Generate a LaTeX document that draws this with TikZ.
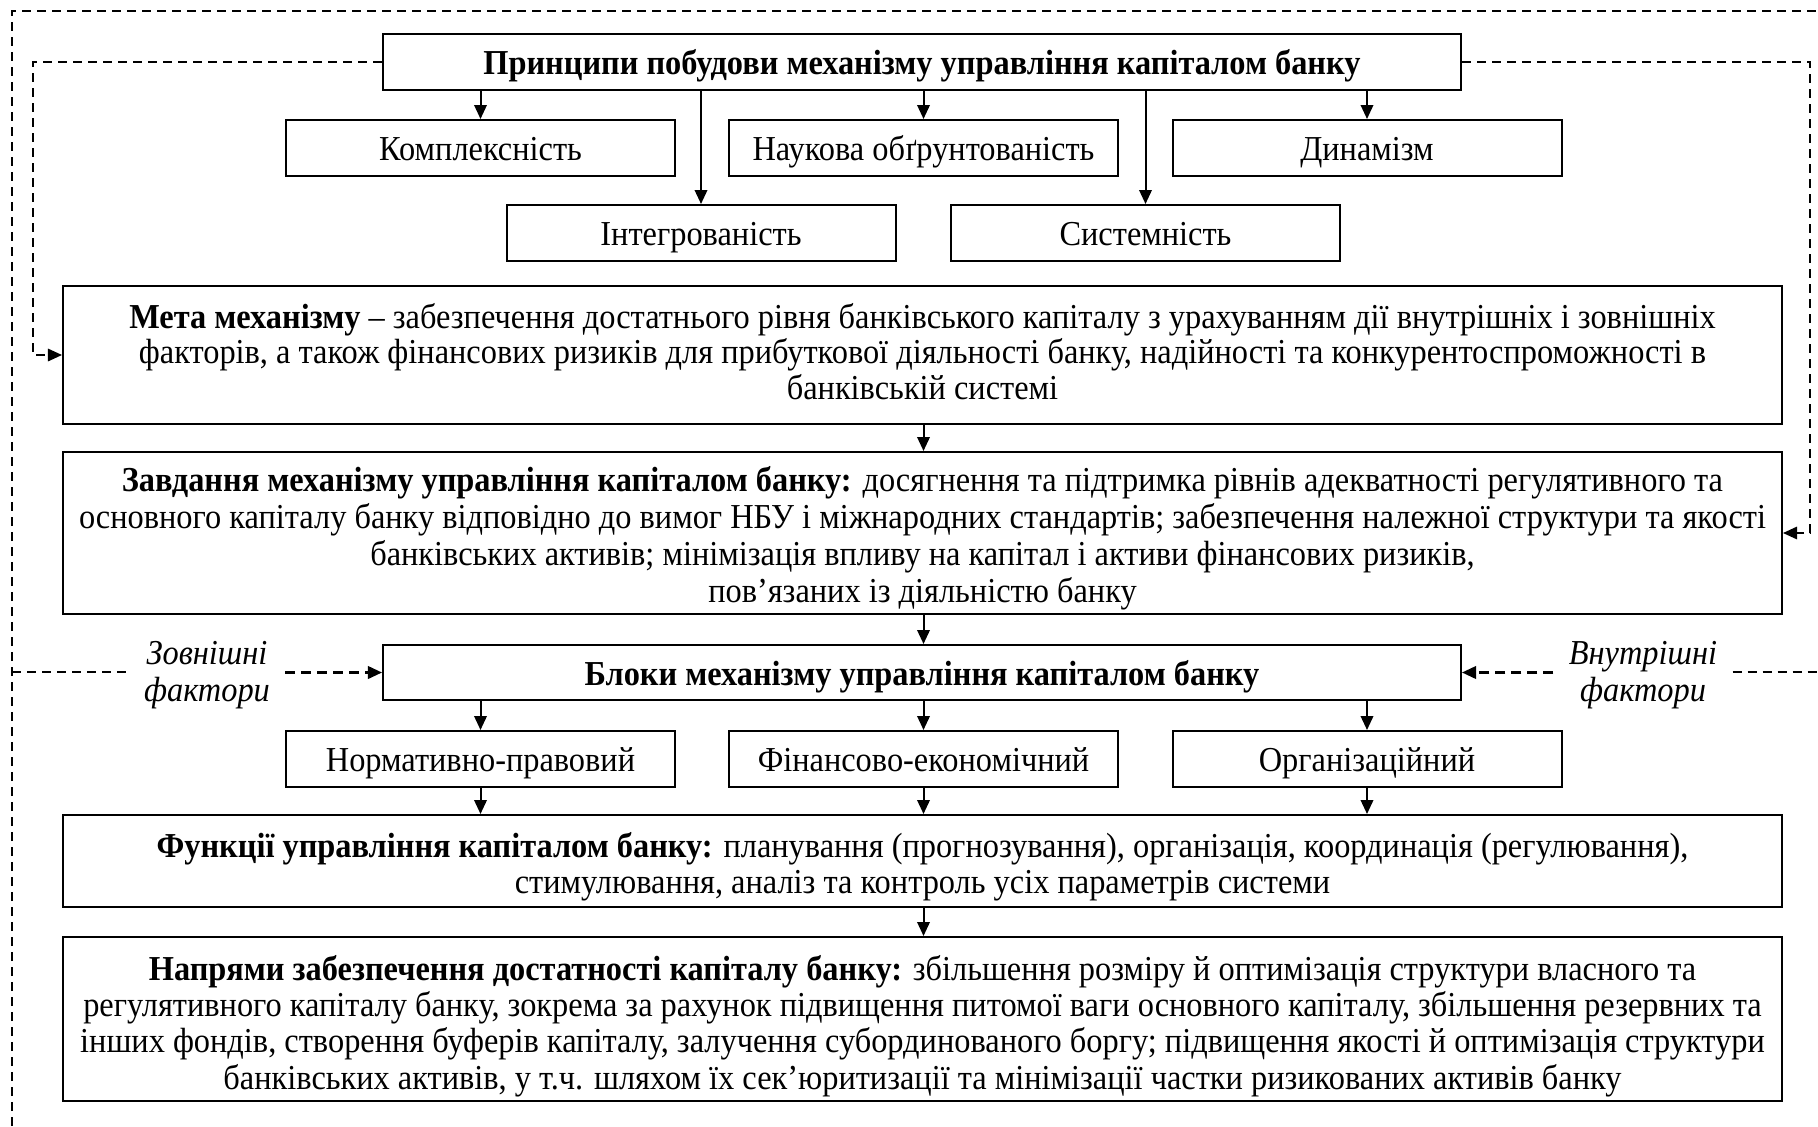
\documentclass[tikz,border=0pt]{standalone}
\usepackage{fontspec}
\setmainfont{Liberation Serif}[FakeStretch=0.925]
\usetikzlibrary{arrows.meta}
\begin{document}
\begin{tikzpicture}[x=0.4pt,y=-0.4pt,
  box/.style={draw, line width=0.8pt, fill=white, inner sep=0pt, align=center,
    font=\fontsize{14pt}{14.5pt}\selectfont},
  one/.style={text height=11.8pt, text depth=1.6pt},
  sbox/.style={box, one, minimum width=155.6pt, minimum height=22.4pt},
  wbox/.style={box, minimum width=687.6pt},
  txt/.style={align=center, inner sep=0pt},
  arr/.style={line width=0.8pt, -{Triangle[length=5.6pt,width=5pt]}},
  dl/.style={line width=0.6pt, dash pattern=on 3.6pt off 2.4pt},
  dla/.style={dl, -{Triangle[length=5.6pt,width=5pt]}},
  fa/.style={line width=0.9pt, dash pattern=on 4pt off 2.4pt, -{Triangle[length=5.6pt,width=5pt]}},
  fac/.style={align=center, inner xsep=6pt, inner ysep=0pt,
    font=\fontsize{14pt}{14.8pt}\selectfont\itshape}]
\useasboundingbox (0,0) rectangle (1818,1126);

% outer frame
\coordinate (fb) at (12,1126);
\coordinate (ftl) at (12,11);
\coordinate (ftr) at (1818,11);
\draw[dl] (fb) -- (ftl) -- (ftr);

% top
\node[box, one, minimum width=431.2pt, minimum height=22.4pt] (top) at (922,62)
  {\textbf{Принципи побудови механізму управління капіталом банку}};
\node[sbox] (kom) at (480.5,148) {Комплексність};
\node[sbox] (nauk) at (923.5,148) {Наукова обґрунтованість};
\node[sbox] (din) at (1367,148) {Динамізм};
\node[sbox] (integ) at (701,233) {Інтегрованість};
\node[sbox] (sys) at (1145.5,233) {Системність};

\draw[arr] (top.south -| kom) -- (kom.north);
\draw[arr] (top.south -| nauk) -- (nauk.north);
\draw[arr] (top.south -| din) -- (din.north);
\draw[arr] (top.south -| integ) -- (integ.north);
\draw[arr] (top.south -| sys) -- (sys.north);

% Meta
\node[wbox, minimum height=55.2pt] (meta) at (922.5,355) {};
\node[txt, font=\fontsize{14pt}{14.1pt}\selectfont] (metat) at (922.5,351.5)
  {\textbf{Мета механізму} – забезпечення достатнього рівня банківського капіталу з урахуванням дії внутрішніх і зовнішніх\\
   факторів, а також фінансових ризиків для прибуткової діяльності банку, надійності та конкурентоспроможності в\\
   банківській системі};

\node[wbox, minimum height=64.8pt] (zad) at (922.5,533) {};
\node[txt, font=\fontsize{14pt}{14.8pt}\selectfont] (zadt) at (922.5,538)
  {\textbf{Завдання механізму управління капіталом банку:} досягнення та підтримка рівнів адекватності регулятивного та\\
   основного капіталу банку відповідно до вимог НБУ і міжнародних стандартів; забезпечення належної структури та якості\\
   банківських активів; мінімізація впливу на капітал і активи фінансових ризиків,\\
   пов’язаних із діяльністю банку};

\draw[arr] (meta.south -| nauk) -- (zad.north -| nauk);

% dashed loops
\draw[dla] (top.west) -- ++(-349,0) |- (meta.west);
\draw[dla] (top.east) -- ++(348,0) |- (zad.east);

% Blocks
\node[box, one, minimum width=431.2pt, minimum height=22pt] (blok) at (922,672.5)
  {\textbf{Блоки механізму управління капіталом банку}};
\draw[arr] (zad.south -| nauk) -- (blok.north -| nauk);

\node[sbox] (norm) at (480.5,759) {Нормативно-правовий};
\node[sbox] (fin) at (923.5,759) {Фінансово-економічний};
\node[sbox] (org) at (1367,759) {Організаційний};

\draw[arr] (blok.south -| norm) -- (norm.north);
\draw[arr] (blok.south -| fin) -- (fin.north);
\draw[arr] (blok.south -| org) -- (org.north);

\node[wbox, minimum height=36.8pt] (func) at (922.5,861) {};
\node[txt, font=\fontsize{14pt}{14.4pt}\selectfont] (funct) at (922.5,867)
  {\textbf{Функції управління капіталом банку:} планування (прогнозування), організація, координація (регулювання),\\
   стимулювання, аналіз та контроль усіх параметрів системи};

\draw[arr] (norm.south) -- (func.north -| norm);
\draw[arr] (fin.south) -- (func.north -| fin);
\draw[arr] (org.south) -- (func.north -| org);

\node[wbox, minimum height=65.6pt] (napr) at (922.5,1019) {};
\node[txt, font=\fontsize{14pt}{14.5pt}\selectfont] (naprt) at (922.5,1026)
  {\textbf{Напрями забезпечення достатності капіталу банку:} збільшення розміру й оптимізація структури власного та\\
   регулятивного капіталу банку, зокрема за рахунок підвищення питомої ваги основного капіталу, збільшення резервних та\\
   інших фондів, створення буферів капіталу, залучення субординованого боргу; підвищення якості й оптимізація структури\\
   банківських активів, у т.ч. шляхом їх сек’юритизації та мінімізації частки ризикованих активів банку};

\draw[arr] (func.south -| nauk) -- (napr.north -| nauk);

% factors
\node[fac] (zf) at (207,675) {Зовнішні\\фактори};
\node[fac] (vf) at (1643,675) {Внутрішні\\фактори};
\coordinate (fl) at (12,672);
\coordinate (fr) at (1818,672);
\draw[dl] (fl) -- (fl -| zf.west);
\draw[fa] (zf.east |- blok) -- (blok.west);
\draw[fa] (vf.west |- blok) -- (blok.east);
\draw[dl] (vf.east |- fr) -- (fr);
\end{tikzpicture}
\end{document}
